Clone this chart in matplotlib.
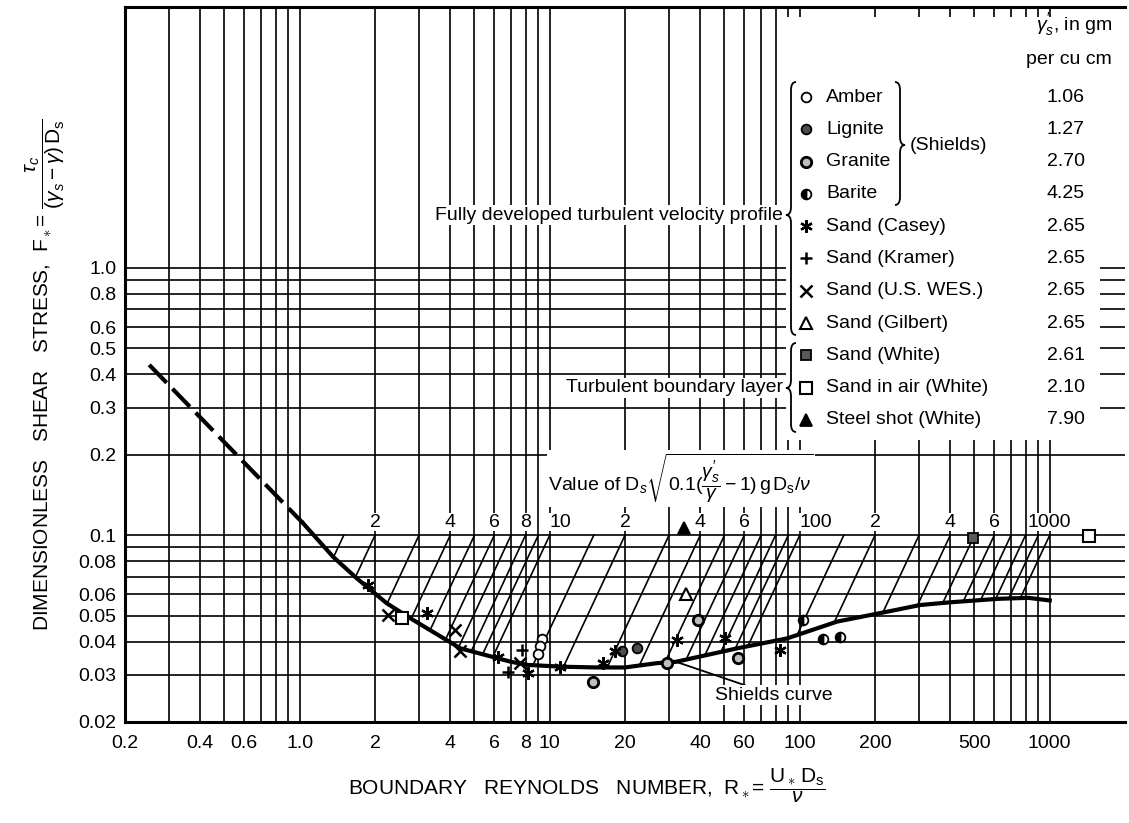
import numpy as np
import matplotlib.pyplot as plt
from matplotlib.path import Path
from matplotlib.patches import PathPatch, Rectangle
from matplotlib.lines import Line2D
from matplotlib.ticker import NullFormatter

plt.rcParams['font.family'] = ['Liberation Sans', 'DejaVu Sans']
plt.rcParams['mathtext.fontset'] = 'custom'
plt.rcParams['mathtext.rm'] = 'Liberation Sans'
plt.rcParams['mathtext.it'] = 'Liberation Sans:italic'
plt.rcParams['mathtext.bf'] = 'Liberation Sans:bold'

W, H = 1129, 823

# Shields curve
dashed_R = [0.25, 1.03]
dashed_F = [0.434, 0.111]
curve_R = [1.03, 1.36, 1.69, 2.23, 2.84, 3.87, 4.4, 7.0, 8.2, 11.3, 15.4, 20, 26.8, 32,
           56, 89, 141, 223, 303, 400, 620, 820, 1000]
curve_F = [0.111, 0.083, 0.069, 0.0556, 0.0482, 0.0405, 0.0377, 0.0336, 0.0327, 0.0322,
           0.032, 0.032, 0.0332, 0.0336, 0.0377, 0.0411, 0.0475, 0.0517, 0.0548, 0.0561,
           0.0578, 0.0583, 0.057]

# experimental points
amber_R = [9.3, 9.15, 9.0]
amber_F = [0.041, 0.0385, 0.036]
lignite_R = [19.5, 22.3]
lignite_F = [0.037, 0.038]
granite_R = [14.9, 29.4, 39.3, 56.8]
granite_F = [0.0283, 0.0332, 0.048, 0.0346]
barite_R = [103, 124, 145]
barite_F = [0.048, 0.0408, 0.0415]
casey_R = [1.88, 3.22, 6.22, 8.2, 11.0, 16.4, 18.2, 32.2, 50.2, 83.4]
casey_F = [0.0651, 0.051, 0.0351, 0.0304, 0.0322, 0.0332, 0.037, 0.0405, 0.0411, 0.0372]
kramer_R = [6.83, 7.73]
kramer_F = [0.0309, 0.0372]
wes_R = [2.26, 4.18, 4.38, 7.6]
wes_F = [0.0503, 0.0442, 0.037, 0.0332]
gilbert_R = [35]
gilbert_F = [0.060]
white_R = [492]
white_F = [0.0976]
air_R = [2.56, 1440]
air_F = [0.0489, 0.099]
steel_R = [34.5]
steel_F = [0.106]

legend_names = ['Amber', 'Lignite', 'Granite', 'Barite', 'Sand (Casey)', 'Sand (Kramer)',
                'Sand (U.S. WES.)', 'Sand (Gilbert)', 'Sand (White)', 'Sand in air (White)',
                'Steel shot (White)']
legend_values = ['1.06', '1.27', '2.70', '4.25', '2.65', '2.65', '2.65', '2.65', '2.61',
                 '2.10', '7.90']

# lines of constant D_s*sqrt(0.1(gs/g-1) g D_s)/nu
param_values = [1.5, 2, 3, 4, 5, 6, 7, 8, 9, 10, 15, 20, 30, 40, 50, 60, 70, 80, 90, 100,
                150, 200, 300, 400, 500, 600, 700, 800, 900, 1000]
param_ticks = [2, 4, 6, 8, 10, 20, 40, 60, 100, 200, 400, 600, 1000]
param_labels = ['2', '4', '6', '8', '10', '2', '4', '6', '100', '2', '4', '6', '1000']

x_major = [0.2, 0.4, 0.6, 1, 2, 4, 6, 8, 10, 20, 40, 60, 100, 200, 500, 1000]
x_labels = ['0.2', '0.4', '0.6', '1.0', '2', '4', '6', '8', '10', '20', '40', '60', '100',
            '200', '500', '1000']
x_minor = [0.3, 0.5, 0.7, 0.8, 0.9, 3, 5, 7, 9, 30, 50, 70, 80, 90, 300, 400, 600, 700,
           800, 900]
y_major = [0.02, 0.03, 0.04, 0.05, 0.06, 0.08, 0.1, 0.2, 0.3, 0.4, 0.5, 0.6, 0.8, 1.0]
y_labels = ['0.02', '0.03', '0.04', '0.05', '0.06', '0.08', '0.1', '0.2', '0.3', '0.4',
            '0.5', '0.6', '0.8', '1.0']
y_minor = [0.07, 0.09, 0.7, 0.9]

styles = [
    dict(marker='o', ms=7, mfc='white', mec='k', mew=1.3),
    dict(marker='o', ms=7, mfc='0.3', mec='k', mew=1.3),
    dict(marker='o', ms=7.5, mfc='0.75', mec='k', mew=2.0),
    dict(marker='o', ms=7, fillstyle='left', mfc='k', mfcalt='white', mec='k', mew=1.3),
    dict(marker=(6, 2, 0), ms=9, mec='k', mew=1.6),
    dict(marker='+', ms=9, mec='k', mew=1.8),
    dict(marker='x', ms=8, mec='k', mew=1.8),
    dict(marker='^', ms=8, mfc='white', mec='k', mew=1.5),
    dict(marker='s', ms=7, mfc='0.35', mec='k', mew=1.3),
    dict(marker='s', ms=8, mfc='white', mec='k', mew=1.5),
    dict(marker='^', ms=8, mfc='k', mec='k', mew=1.3),
]
series = [(amber_R, amber_F), (lignite_R, lignite_F), (granite_R, granite_F),
          (barite_R, barite_F), (casey_R, casey_F), (kramer_R, kramer_F), (wes_R, wes_F),
          (gilbert_R, gilbert_F), (white_R, white_F), (air_R, air_F), (steel_R, steel_F)]


def fx(px):
    return px / W


def fy(py):
    return 1 - py / H


fig = plt.figure(figsize=(W / 100, H / 100), dpi=100)
ax = fig.add_axes([fx(125), fy(722), 1000 / W, (722 - 6.7) / H])
ax.set_xscale('log')
ax.set_yscale('log')
ax.set_xlim(0.2, 2000)
ax.set_ylim(0.02, 9.5)

ax.set_xticks(x_major)
ax.set_xticklabels(x_labels)
ax.set_xticks(x_minor, minor=True)
ax.set_yticks(y_major)
ax.set_yticklabels(y_labels)
ax.set_yticks(y_minor, minor=True)
ax.xaxis.set_minor_formatter(NullFormatter())
ax.yaxis.set_minor_formatter(NullFormatter())
ax.tick_params(which='both', length=0, labelsize=14)
ax.tick_params(axis='x', pad=9)
ax.tick_params(axis='y', pad=6)
ax.grid(True, which='both', color='k', lw=1.2)
for s in ['left', 'bottom', 'top']:
    ax.spines[s].set_linewidth(2.2)
ax.spines['right'].set_visible(False)

# Shields curve
ax.plot(dashed_R, dashed_F, color='k', lw=3, ls=(0, (6, 2)), zorder=3)
ax.plot(curve_R, curve_F, color='k', lw=3, zorder=3)

# diagonal parameter lines from F=0.1 down to the curve
all_R = np.log10(dashed_R + curve_R[1:])
all_F = np.log10(dashed_F + curve_F[1:])
Fs = np.logspace(-1, np.log10(0.025), 600)
for P in param_values:
    R = P * np.sqrt(10 * Fs)
    Fc = np.interp(np.log10(R), all_R, all_F)
    hit = np.where(np.log10(Fs) <= Fc)[0]
    i = hit[0] if len(hit) else len(Fs) - 1
    ax.plot([P, R[i]], [0.1, Fs[i]], color='k', lw=1.2, zorder=2)

for P, lab in zip(param_ticks, param_labels):
    ha = 'left' if lab in ('10', '100') else 'center'
    ax.text(P, 0.112, lab, ha=ha, va='center', fontsize=14, zorder=4,
            bbox=dict(fc='white', ec='none', pad=0.5))

ax.text(9.84, 0.163,
        r"Value of D$_s$$\sqrt{0.1(\dfrac{\gamma^{\prime}_{s}}{\gamma} - 1)\,\mathrm{g\,D_s}/\nu}$",
        ha='left', va='center', fontsize=14, zorder=4,
        bbox=dict(fc='white', ec='none', pad=1))

# experimental points
for (r, f), st in zip(series, styles):
    ax.plot(r, f, ls='none', zorder=5, **st)

ax.annotate('Shields curve', xy=(32, 0.0336), xytext=(46, 0.0252), fontsize=14,
            ha='left', va='center', zorder=6,
            bbox=dict(fc='white', ec='none', pad=1),
            arrowprops=dict(arrowstyle='-', lw=1.3, color='k', shrinkA=0, shrinkB=0))

ax.set_xlabel(r'BOUNDARY   REYNOLDS   NUMBER,  R$_\ast$= $\dfrac{\mathrm{U_\ast\,D_s}}{\nu}$',
              fontsize=15)
ax.xaxis.set_label_coords(0.462, -0.062)
ax.set_ylabel(r'DIMENSIONLESS   SHEAR   STRESS,  F$_\ast$= '
              r'$\dfrac{\tau_c}{(\gamma_s - \gamma)\,\mathrm{D_s}}$',
              fontsize=15)
ax.yaxis.set_label_coords(-0.058, 0.485)

# legend area
fig.add_artist(Rectangle((fx(786), fy(440)), (1100 - 786) / W, (440 - 17) / H,
                         transform=fig.transFigure, fc='white', ec='none', zorder=1))
fig.text(fx(1112), fy(25), r"$\gamma^{\prime}_{s}$, in gm", ha='right', va='center',
         fontsize=14)
fig.text(fx(1112), fy(60), 'per cu cm', ha='right', va='center', fontsize=14)
for i, (name, val, st) in enumerate(zip(legend_names, legend_values, styles)):
    yy = 97 + 32.3 * i
    fig.add_artist(Line2D([fx(806)], [fy(yy)], transform=fig.transFigure, ls='none',
                          zorder=4, **st))
    fig.text(fx(826), fy(yy), name, ha='left', va='center', fontsize=14)
    fig.text(fx(1066), fy(yy), val, ha='center', va='center', fontsize=14)
fig.text(fx(910), fy(145), '(Shields)', ha='left', va='center', fontsize=14)


def brace(x_tip, x_end, y_top, y_bot, y_mid, h=8):
    xm = (x_tip + x_end) / 2
    pts = [(x_end, y_top), (xm, y_top), (xm, y_top + h), (xm, y_mid - h), (xm, y_mid),
           (x_tip, y_mid), (xm, y_mid), (xm, y_mid + h), (xm, y_bot - h), (xm, y_bot),
           (x_end, y_bot)]
    codes = [Path.MOVETO, Path.CURVE3, Path.CURVE3, Path.LINETO, Path.CURVE3, Path.CURVE3,
             Path.CURVE3, Path.CURVE3, Path.LINETO, Path.CURVE3, Path.CURVE3]
    verts = [(fx(a), fy(b)) for a, b in pts]
    fig.add_artist(PathPatch(Path(verts, codes), transform=fig.transFigure, fc='none',
                             ec='k', lw=1.3, zorder=4))


brace(786, 796, 82, 335, 215)
brace(905, 895, 82, 205, 145)
brace(786, 796, 343, 432, 388)

fig.text(fx(783), fy(215), 'Fully developed turbulent velocity profile', ha='right',
         va='center', fontsize=14, bbox=dict(fc='white', ec='none', pad=1))
fig.text(fx(783), fy(388), 'Turbulent boundary layer', ha='right', va='center',
         fontsize=14, bbox=dict(fc='white', ec='none', pad=1))

fig.savefig('out.png', dpi=100)
